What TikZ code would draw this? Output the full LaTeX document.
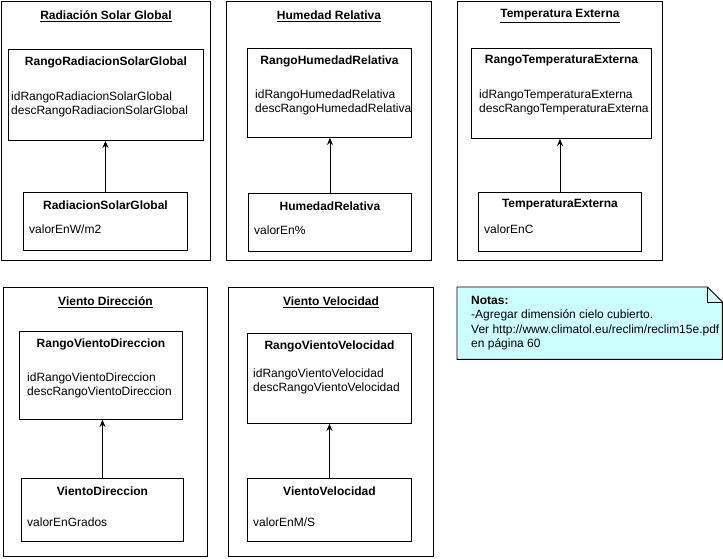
\documentclass[tikz,border=0pt]{standalone}
\usepackage{fontspec}
\setmainfont{Liberation Sans}
\usetikzlibrary{arrows.meta,positioning}
\definecolor{notafondo}{HTML}{CCFFFF}
\tikzstyle{grupo}=[draw,line width=0.9pt,anchor=north west,inner sep=0pt]
\tikzstyle{tabla}=[draw,line width=0.9pt,anchor=north west,inner sep=0pt]
\tikzstyle{titulo}=[font=\fontsize{12}{14}\selectfont\bfseries,inner sep=0pt]
\tikzstyle{campo}=[font=\fontsize{12}{14}\selectfont,inner sep=0pt,anchor=west,align=left]
\tikzstyle{enlace}=[draw,line width=0.9pt,-{Stealth[length=7pt,width=6pt]}]

\begin{document}
\begin{tikzpicture}[x=1pt,y=-1pt]
    \useasboundingbox (0,0) rectangle (723,559);
    % Grupos con su titulo
    \foreach \pos/\w/\h/\name/\title in {{(1,1)/209/259/rsg/Radiación Solar Global},
        {(226,1)/205/259/hr/Humedad Relativa}, {(457,1)/205/259/te/Temperatura Externa},
        {(3,287)/204/269/vd/Viento Dirección}, {(228,287)/205/269/vv/Viento Velocidad}}
    {
        \node[grupo,minimum width=\w pt,minimum height=\h pt] (\name) at \pos {};
        \node[titulo] (\name-tit) at ([yshift=-15pt]\name.north) {\underline{\title}};
    }
    % Tablas de rango
    \foreach \pos/\w/\h/\name/\title/\dx/\dy/\campos in {{(8,49)/195/91/rrsg/RangoRadiacionSolarGlobal/3/55/{idRangoRadiacionSolarGlobal\\descRangoRadiacionSolarGlobal}},
        {(247,48)/164/89/rhr/RangoHumedadRelativa/8/54/{idRangoHumedadRelativa\\descRangoHumedadRelativa}},
        {(471,48)/180/90/rte/RangoTemperaturaExterna/8/54/{idRangoTemperaturaExterna\\descRangoTemperaturaExterna}},
        {(19,331)/163/88/rvd/RangoVientoDireccion/8/54/{idRangoVientoDireccion\\descRangoVientoDireccion}},
        {(247,333)/164/90/rvv/RangoVientoVelocidad/6/48/{idRangoVientoVelocidad\\descRangoVientoVelocidad}}}
    {
        \node[tabla,minimum width=\w pt,minimum height=\h pt] (\name) at \pos {};
        \node[titulo] (\name-tit) at ([yshift=-13pt]\name.north) {\title};
        \node[campo] (\name-cam) at ([xshift=\dx pt,yshift=-\dy pt]\name.north west) {\campos};
    }
    % Tablas de valores
    \foreach \pos/\w/\h/\name/\title/\dy/\valor in {{(23,192)/164/58/srsg/RadiacionSolarGlobal/37/{valorEnW/m2}},
        {(248,193)/163/58/shr/HumedadRelativa/37/{valorEn\%}},
        {(478,192)/163/59/ste/TemperaturaExterna/37/{valorEnC}},
        {(21,478)/162/63/svd/VientoDireccion/44/{valorEnGrados}},
        {(247,478)/164/63/svv/VientoVelocidad/44/{valorEnM/S}}}
    {
        \node[tabla,minimum width=\w pt,minimum height=\h pt] (\name) at \pos {};
        \node[titulo] (\name-tit) at ([yshift=-13pt]\name.north) {\title};
        \node[campo] (\name-val) at ([xshift=6pt,yshift=-\dy pt]\name.north west) {\valor};
    }
    % Conectar valores con rangos
    \foreach \source/\dest in {srsg/rrsg, shr/rhr, ste/rte, svd/rvd, svv/rvv}
        \path[enlace] (\source.north) -- (\source.north |- \dest.south);
    % Nota
    \node[anchor=north west,minimum width=265pt,minimum height=72pt,inner sep=0pt] (notas) at (457,287) {};
    \coordinate (pliegue) at ([xshift=-15pt]notas.north east);
    \coordinate (pliegue-b) at ([yshift=-15pt]notas.north east);
    \draw[line width=0.9pt,fill=notafondo] (notas.north west) -- (pliegue) -- (pliegue-b) -- (notas.south east) -- (notas.south west) -- cycle;
    \draw[line width=0.9pt] (pliegue) -- (pliegue |- pliegue-b) -- (pliegue-b);
    \node[campo,anchor=north west,font=\fontsize{12}{14.5}\selectfont] (notas-txt) at ([xshift=14pt,yshift=-9pt]notas.north west)
        {\textbf{Notas:}\\-Agregar dimensión cielo cubierto.\\Ver http://www.climatol.eu/reclim/reclim15e.pdf\\en página 60};
\end{tikzpicture}
\end{document}
